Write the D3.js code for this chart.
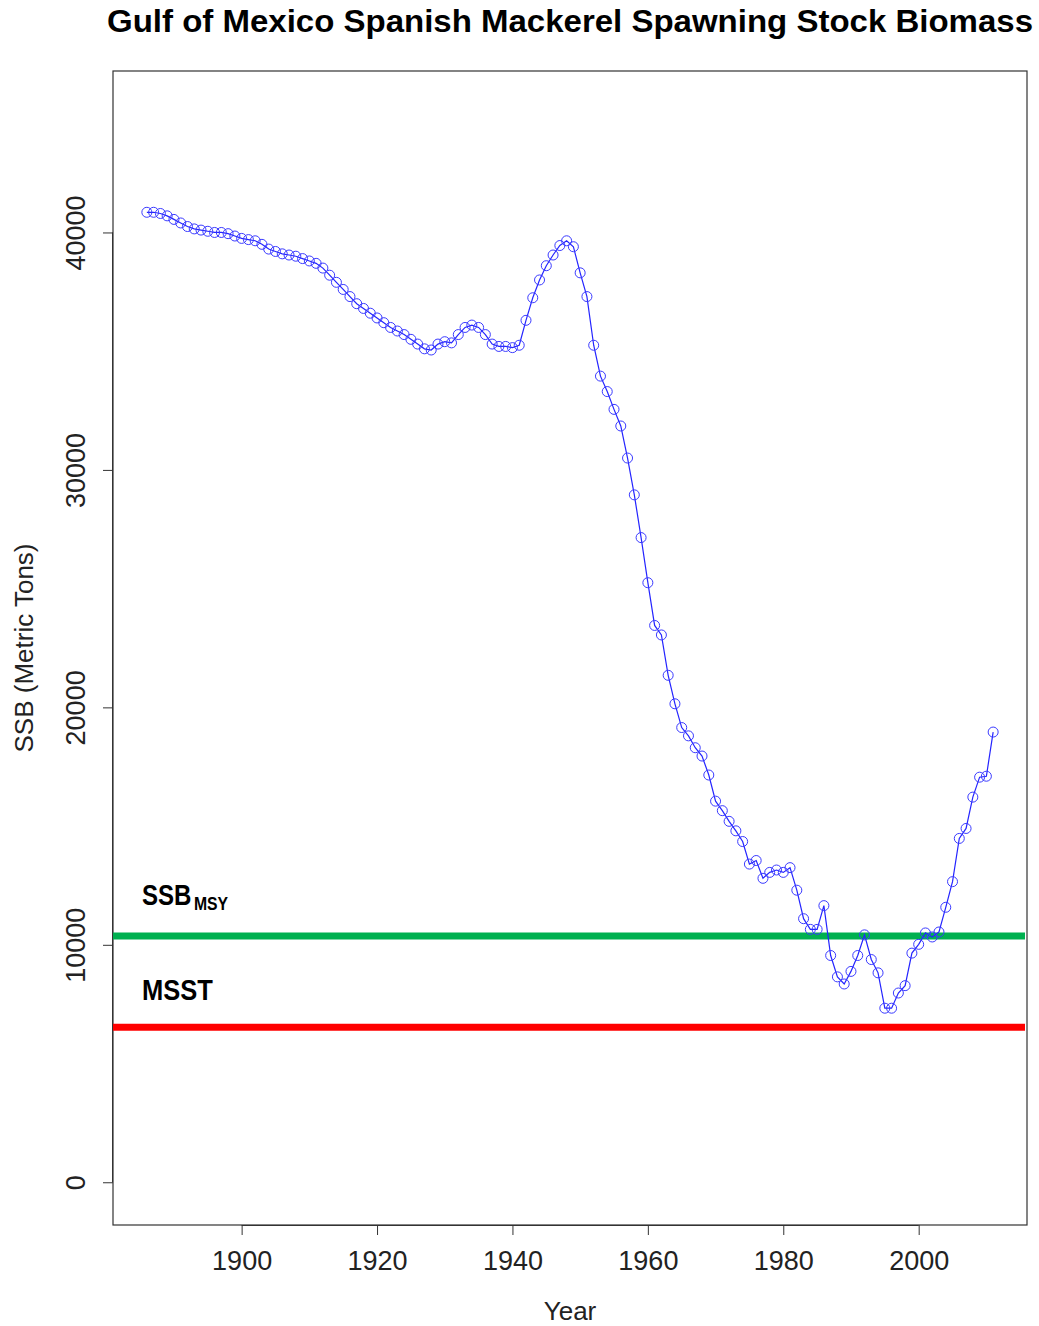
<!DOCTYPE html>
<html>
<head>
<meta charset="utf-8">
<script src="https://cdn.jsdelivr.net/npm/d3@7"></script>
<style>
  body { margin: 0; background: #fff; }
  text { font-family: "Liberation Sans", Arial, sans-serif; }
</style>
</head>
<body>
<script>
// SSB by year (metric tons)
const years = d3.range(1886, 2012);
const ssb = [
  40850, 40850, 40800, 40700, 40550, 40400, 40250, 40150, 40100, 40050,
  40000, 40000, 39950, 39850, 39750, 39700, 39650, 39500, 39300, 39200,
  39100, 39050, 39000, 38900, 38800, 38700, 38500, 38200, 37900, 37600,
  37300, 37000, 36800, 36600, 36400, 36200, 36000, 35850, 35700, 35500,
  35300, 35100, 35050, 35300, 35400, 35350, 35700, 36000, 36100, 36000,
  35700, 35300, 35200, 35200, 35150, 35250, 36300, 37250, 38000, 38600,
  39050, 39450, 39650, 39400, 38300, 37300, 35250, 33950, 33300, 32550,
  31850, 30500, 28950, 27150, 25250, 23450, 23050, 21350, 20150, 19150,
  18800, 18300, 17950, 17150, 16050, 15650, 15200, 14800, 14350, 13400,
  13550, 12800, 13050, 13150, 13050, 13250, 12300, 11100, 10650, 10650,
  11650, 9550, 8650, 8350, 8880, 9550, 10420, 9380, 8820, 7330,
  7330, 7970, 8280, 9650, 10020, 10500, 10330, 10540, 11580, 12660,
  14480, 14900, 16220, 17060, 17100, 18960
];
const xTicks = [1900, 1920, 1940, 1960, 1980, 2000];
const yTicks = [0, 10000, 20000, 30000, 40000];
const refNames = ["SSB", "MSST"];
const refValues = [10370, 6530];
const refColors = ["#00b050", "#ff0000"];

const W = 1039, H = 1326;
const pLeft = 113, pRight = 1027, pTop = 71, pBottom = 1225;

const svg = d3.select("body").append("svg")
  .attr("width", W).attr("height", H);

const x = d3.scaleLinear().domain([1881, 2016]).range([pLeft, pRight]);
const y = d3.scaleLinear().domain([-1800, 46800]).range([pBottom, pTop]);

// title
svg.append("text")
  .attr("x", 570).attr("y", 32)
  .attr("text-anchor", "middle")
  .attr("font-size", 31).attr("font-weight", "bold")
  .attr("textLength", 926).attr("lengthAdjust", "spacingAndGlyphs")
  .text("Gulf of Mexico Spanish Mackerel Spawning Stock Biomass");

// plot box
svg.append("rect")
  .attr("x", pLeft).attr("y", pTop)
  .attr("width", pRight - pLeft).attr("height", pBottom - pTop)
  .attr("fill", "none").attr("stroke", "#333").attr("stroke-width", 1.2);

// x axis
const xAxis = svg.append("g")
  .attr("transform", `translate(0,${pBottom})`)
  .call(d3.axisBottom(x).tickValues(xTicks).tickFormat(d3.format("d"))
    .tickSizeInner(10).tickSizeOuter(0).tickPadding(16));
xAxis.select(".domain").attr("d", `M${x(1900)},0.5H${x(2000)}`).attr("stroke", "#333");
xAxis.selectAll(".tick line").attr("stroke", "#333");
xAxis.selectAll("text").attr("font-size", 27).attr("fill", "#222")
  .attr("font-family", "Liberation Sans, Arial, sans-serif");

// y axis (labels parallel to the axis, as R does)
const yAxis = svg.append("g")
  .attr("transform", `translate(${pLeft},0)`)
  .call(d3.axisLeft(y).tickValues(yTicks).tickFormat(d3.format("d"))
    .tickSizeInner(10).tickSizeOuter(0));
yAxis.select(".domain").attr("d", `M-0.5,${y(0)}V${y(40000)}`).attr("stroke", "#333");
yAxis.selectAll(".tick line").attr("stroke", "#333");
yAxis.selectAll(".tick text")
  .attr("x", null).attr("dy", null)
  .attr("transform", "translate(-28,0) rotate(-90)")
  .attr("text-anchor", "middle")
  .attr("font-size", 27).attr("fill", "#222")
  .attr("font-family", "Liberation Sans, Arial, sans-serif");

// axis titles
svg.append("text")
  .attr("x", 570).attr("y", 1320)
  .attr("text-anchor", "middle").attr("font-size", 26).attr("fill", "#222")
  .text("Year");
svg.append("text")
  .attr("transform", `translate(33,${(pTop + pBottom) / 2}) rotate(-90)`)
  .attr("text-anchor", "middle").attr("font-size", 26).attr("fill", "#222")
  .text("SSB (Metric Tons)");

// reference lines
svg.selectAll("line.ref").data(refValues).enter().append("line")
  .attr("class", "ref")
  .attr("x1", pLeft).attr("x2", pRight - 2)
  .attr("y1", d => y(d)).attr("y2", d => y(d))
  .attr("stroke", (d, i) => refColors[i]).attr("stroke-width", 7);

// reference labels (SSB with MSY subscript, then MSST), squeezed horizontally
const labFont = "Lato, 'Open Sans', sans-serif";
svg.append("text")
  .attr("transform", `translate(142,${y(refValues[0]) - 31}) scale(0.83,1)`)
  .attr("font-family", labFont).attr("font-weight", "bold").attr("font-size", 29)
  .text(refNames[0]);
svg.append("text")
  .attr("transform", `translate(194,${y(refValues[0]) - 26}) scale(0.83,1)`)
  .attr("font-family", labFont).attr("font-weight", "bold").attr("font-size", 19)
  .text("MSY");

svg.append("text")
  .attr("transform", `translate(142,${y(refValues[1]) - 27}) scale(0.85,1)`)
  .attr("font-family", labFont).attr("font-weight", "bold").attr("font-size", 30)
  .text(refNames[1]);

// SSB series
const pts = years.map((yr, i) => [yr, ssb[i]]);
svg.append("path")
  .datum(pts)
  .attr("fill", "none").attr("stroke", "#2424ff").attr("stroke-width", 1.2)
  .attr("d", d3.line().x(d => x(d[0])).y(d => y(d[1])));

svg.selectAll("circle.pt").data(pts).enter().append("circle")
  .attr("class", "pt")
  .attr("cx", d => x(d[0])).attr("cy", d => y(d[1]))
  .attr("r", 5)
  .attr("fill", "none").attr("stroke", "#3a3aff").attr("stroke-width", 1);
</script>
</body>
</html>
